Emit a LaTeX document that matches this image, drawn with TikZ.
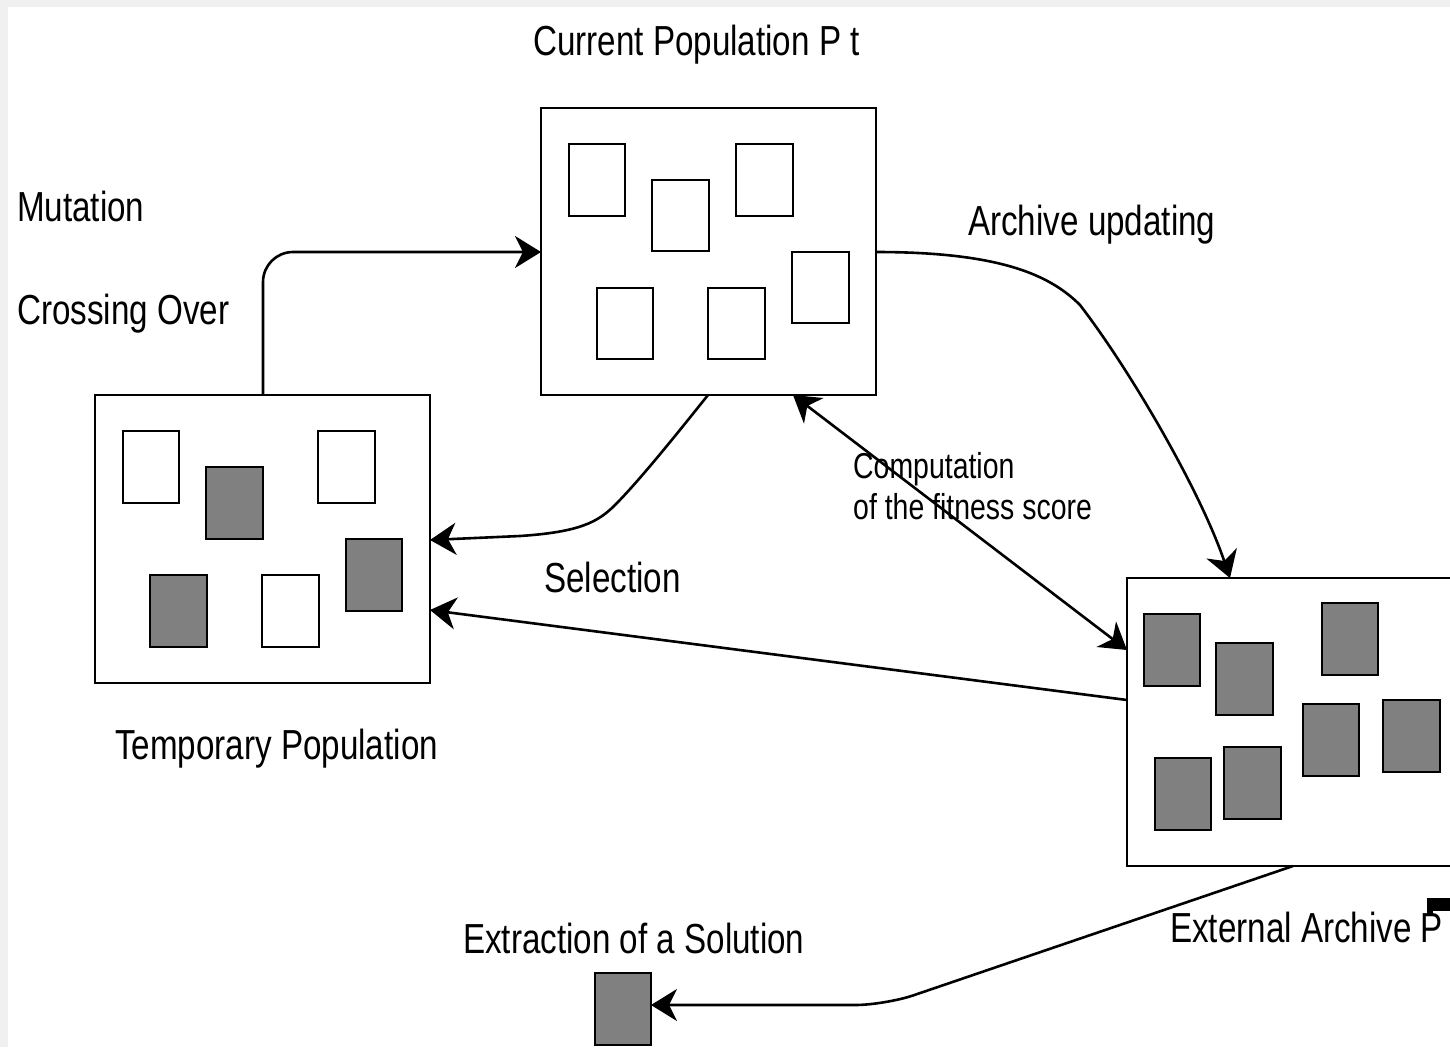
\documentclass[tikz,border=0pt]{standalone}
\usepackage{fontspec}
\setmainfont{Liberation Sans}[FakeStretch=0.79]
\usetikzlibrary{arrows.meta}
\definecolor{pagegray}{HTML}{F0F0F0}
\definecolor{solgray}{HTML}{808080}
\tikzset{
  x=1pt, y=-1pt,
  popbox/.style={draw=black, line width=2.6pt, fill=white},
  indiv/.style={draw=black, line width=2.6pt, fill=white},
  elite/.style={draw=black, line width=2.6pt, fill=solgray},
  conn/.style={draw=black, line width=2.6pt,
    -{Stealth[length=26pt, width=32pt, inset=8pt]}},
  bothconn/.style={draw=black, line width=2.6pt,
    {Stealth[length=26pt, width=32pt, inset=8pt]}-{Stealth[length=26pt, width=32pt, inset=8pt]}},
  lbl/.style={inner sep=0pt, anchor=base west, font=\fontsize{42}{50}\selectfont},
  smalllbl/.style={inner sep=0pt, anchor=base west, font=\fontsize{36}{40}\selectfont},
}
\begin{document}
\begin{tikzpicture}
  % page
  \useasboundingbox (0,0) rectangle (1450,1047);
  \fill[pagegray] (0,0) rectangle (1450,1047);
  \fill[white] (8,7) rectangle (1450,1047);

  \begin{scope}
    \clip (8,7) rectangle (1450,1047);

    % current population
    \path[popbox] (541,108) rectangle (876,395);
    \node[inner sep=0pt, minimum width=335pt, minimum height=287pt, anchor=north west] (cur) at (541,108) {};
    \path[indiv] (569,144) rectangle (625,216);
    \path[indiv] (652,180) rectangle (709,251);
    \path[indiv] (736,144) rectangle (793,216);
    \path[indiv] (792,252) rectangle (849,323);
    \path[indiv] (597,288) rectangle (653,359);
    \path[indiv] (708,288) rectangle (765,359);

    % temporary population
    \path[popbox] (95,395) rectangle (430,683);
    \node[inner sep=0pt, minimum width=335pt, minimum height=288pt, anchor=north west] (tmp) at (95,395) {};
    \path[indiv] (123,431) rectangle (179,503);
    \path[elite] (206,467) rectangle (263,539);
    \path[indiv] (318,431) rectangle (375,503);
    \path[elite] (346,539) rectangle (402,611);
    \path[elite] (150,575) rectangle (207,647);
    \path[indiv] (262,575) rectangle (319,647);

    % external archive
    \path[popbox] (1127,578) rectangle (1470,866);
    \node[inner sep=0pt, minimum width=343pt, minimum height=288pt, anchor=north west] (arc) at (1127,578) {};
    \path[elite] (1144,614) rectangle (1200,686);
    \path[elite] (1216,643) rectangle (1273,715);
    \path[elite] (1322,603) rectangle (1378,675);
    \path[elite] (1303,704) rectangle (1359,776);
    \path[elite] (1383,700) rectangle (1440,772);
    \path[elite] (1155,758) rectangle (1211,830);
    \path[elite] (1224,747) rectangle (1281,819);

    % extracted solution
    \path[elite] (595,973) rectangle (651,1045);
    \node[inner sep=0pt, minimum width=56pt, minimum height=72pt, anchor=north west] (sol) at (595,973) {};

    % connection points
    \coordinate (tmpTop) at (263,395);
    \coordinate (curLeft) at (541,252);
    \coordinate (curBot) at (708,395);
    \coordinate (tmpIn1) at (430,540);
    \coordinate (curRight) at (876,252);
    \coordinate (arcTop) at (1230,578);
    \coordinate (curFit) at (793,395);
    \coordinate (arcFit) at (1127,650);
    \coordinate (arcOut) at (1127,700);
    \coordinate (tmpIn2) at (430,610);
    \coordinate (arcBot) at (1293,866);
    \coordinate (solIn) at (651,1005);

    % connectors
    \draw[conn, rounded corners=30pt] (tmpTop) -- (263,252) -- (curLeft);
    \draw[conn] (curBot) .. controls (680,430) and (640,480) .. (615,505)
      .. controls (598,522) and (580,532) .. (520,536) -- (tmpIn1);
    \draw[conn] (curRight) .. controls (1000,252) and (1050,275) .. (1080,305)
      .. controls (1130,370) and (1200,490) .. (arcTop);
    \draw[bothconn] (curFit) -- (arcFit);
    \draw[conn] (arcOut) -- (tmpIn2);
    \draw[conn, rounded corners=30pt] (arcBot) -- (885,1005) -- (solIn);

    % labels
    \node[lbl] (tCur) at (533,55) {Current Population P t};
    \node[lbl] (tMut) at (17,221) {Mutation};
    \node[lbl] (tCross) at (17,324) {Crossing Over};
    \node[lbl] (tArc) at (968,235) {Archive updating};
    \node[smalllbl] (tComp1) at (853,478) {Computation};
    \node[smalllbl] (tComp2) at (853,519) {of the fitness score};
    \node[lbl] (tSel) at (544,592) {Selection};
    \node[lbl] (tTmp) at (115,759) {Temporary Population};
    \node[lbl] (tExt) at (463,953) {Extraction of a Solution};
    \node[lbl] (tArcName) at (1170,942) {External Archive P};
    \fill[black] (1427,898) rectangle (1455,911);
    \fill[black] (1427,898) rectangle (1433,916);
  \end{scope}
\end{tikzpicture}
\end{document}
